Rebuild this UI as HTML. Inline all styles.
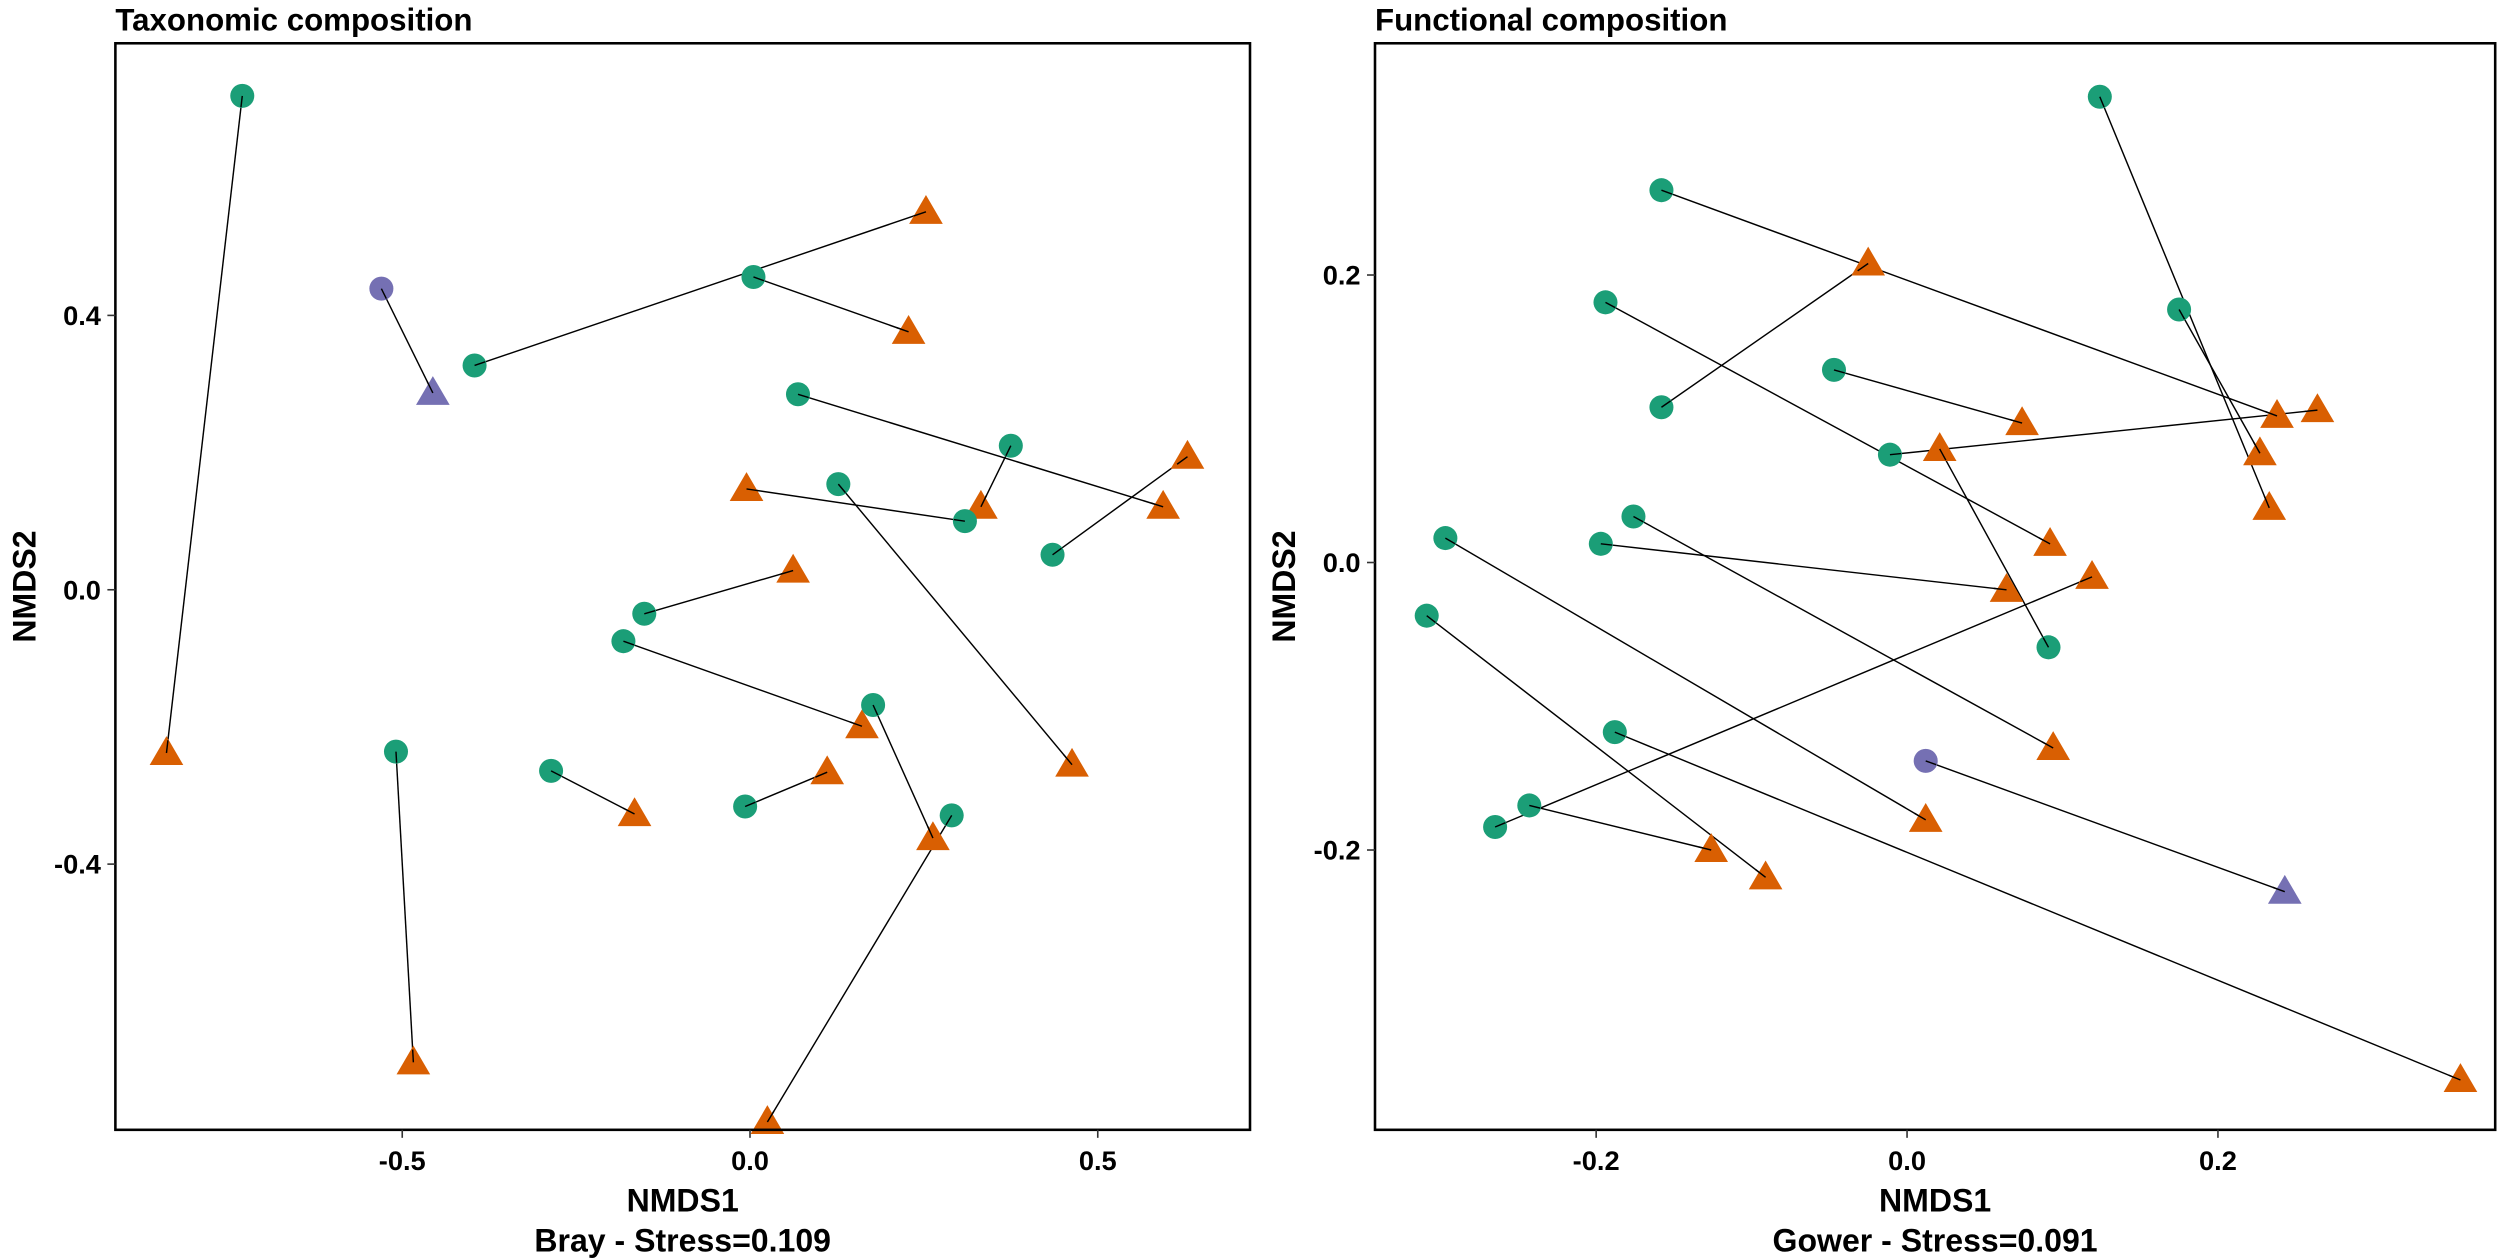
<!DOCTYPE html>
<html><head><meta charset="utf-8"><style>
html,body{margin:0;padding:0;background:#fff;}
svg{display:block;font-family:"Liberation Sans",Arial,sans-serif;font-weight:bold;}
</style></head><body>
<svg id="chart" width="2500" height="1259" viewBox="0 0 1560 785.6" xmlns="http://www.w3.org/2000/svg"></svg>
<script>
// Taxonomic panel data: [circleX, circleY, triX, triY]
const taxCircleX = [-0.730,-0.530,-0.396,0.005,0.069,0.375,0.127,0.309,0.435,-0.152,-0.182,0.177,-0.286,-0.007,0.290,-0.509];
const taxCircleY = [0.720,0.439,0.327,0.456,0.285,0.210,0.154,0.100,0.051,-0.035,-0.075,-0.168,-0.264,-0.316,-0.329,-0.236];
const taxTriX = [-0.839,-0.456,0.253,0.228,0.594,0.332,0.463,-0.005,0.629,0.062,0.161,0.263,-0.166,0.111,0.025,-0.484];
const taxTriY = [-0.238,0.287,0.551,0.376,0.121,0.121,-0.255,0.147,0.194,0.028,-0.199,-0.362,-0.327,-0.266,-0.776,-0.689];
const taxGroup = ["g","p","g","g","g","g","g","g","g","g","g","g","g","g","g","g"];
const taxXTicks = [-0.5,0.0,0.5];
const taxXTickLabels = ["-0.5","0.0","0.5"];
const taxYTicks = [0.4,0.0,-0.4];
const taxYTickLabels = ["0.4","0.0","-0.4"];

// Functional panel data
const funCircleX = [0.124,0.175,-0.158,-0.158,-0.194,-0.047,-0.011,0.091,-0.197,-0.176,-0.297,-0.309,-0.188,-0.265,-0.243,0.012];
const funCircleY = [0.324,0.176,0.259,0.108,0.181,0.134,0.075,-0.059,0.013,0.032,0.017,-0.037,-0.118,-0.184,-0.169,-0.138];
const funTriX = [0.233,0.227,0.238,-0.025,0.092,0.074,0.264,0.021,0.064,0.094,0.012,-0.091,0.356,0.119,-0.126,0.243];
const funTriY = [0.038,0.076,0.102,0.208,0.013,0.097,0.106,0.079,-0.019,-0.129,-0.179,-0.219,-0.360,-0.010,-0.200,-0.229];
const funGroup = ["g","g","g","g","g","g","g","g","g","g","g","g","g","g","g","p"];
const funXTicks = [-0.2,0.0,0.2];
const funXTickLabels = ["-0.2","0.0","0.2"];
const funYTicks = [0.2,0.0,-0.2];
const funYTickLabels = ["0.2","0.0","-0.2"];

const NS="http://www.w3.org/2000/svg";
const svg=document.getElementById('chart');
function mk(tag,attrs,parent){const e=document.createElementNS(NS,tag);for(const k in attrs)e.setAttribute(k,attrs[k]);(parent||svg).appendChild(e);return e;}
const COL={g:"#1b9e77",p:"#7570b3",t:"#d95f02"};

function panel(opt){
  const g=mk('g',{});
  
  
  const sx=v=>opt.x0+v*opt.kx, sy=v=>opt.y0-v*opt.ky;
  const t=mk('text',{x:opt.L,y:19,'font-size':19.5},g);
  t.textContent=opt.title;
  
  
  // segments
  for(let i=0;i<opt.cx.length;i++){
    const l=mk('line',{x1:sx(opt.cx[i]),y1:sy(opt.cy[i]),x2:sx(opt.tx[i]),y2:sy(opt.ty[i]),stroke:'#000','stroke-width':0.9},g);
    
    
  }
  for(let i=0;i<opt.cx.length;i++){
    const c=mk('circle',{cx:sx(opt.cx[i]),cy:sy(opt.cy[i]),r:7.5,fill:COL[opt.grp[i]]},g);
    
    
    const X=sx(opt.tx[i]),Y=sy(opt.ty[i]);
    const tc=opt.grp[i]==='p'?COL.p:COL.t;
    const tr=mk('polygon',{points:`${X},${Y-10.5} ${X-10.5},${Y+7.5} ${X+10.5},${Y+7.5}`,fill:tc},g);
    
    
  }
  // redraw segments' ends on top lightly
  for(let i=0;i<opt.cx.length;i++){
    const X=sx(opt.tx[i]),Y=sy(opt.ty[i]);
    const dx=sx(opt.cx[i])-X,dy=sy(opt.cy[i])-Y,d=Math.hypot(dx,dy)||1;
    mk('line',{x1:X,y1:Y,x2:X+dx/d*8,y2:Y+dy/d*8,stroke:'#000','stroke-width':0.9},g);
    const CX=sx(opt.cx[i]),CY=sy(opt.cy[i]);
    mk('line',{x1:CX,y1:CY,x2:CX-dx/d*7,y2:CY-dy/d*7,stroke:'#000','stroke-width':0.9},g);
  }
  const box=mk('rect',{x:opt.L,y:27,width:opt.R-opt.L,height:705-27,fill:'none',stroke:'#000','stroke-width':1.6},g);
  
  
  opt.xt.forEach((v,i)=>{
    const X=sx(v);
    mk('line',{x1:X,y1:705,x2:X,y2:710,stroke:'#333','stroke-width':1},g);
    const tl=mk('text',{x:X,y:730,'text-anchor':'middle','font-size':17},g);
    tl.textContent=opt.xl[i];
    
    
  });
  opt.yt.forEach((v,i)=>{
    const Y=sy(v);
    mk('line',{x1:opt.L-5,y1:Y,x2:opt.L,y2:Y,stroke:'#333','stroke-width':1},g);
    const tl=mk('text',{x:opt.L-9,y:Y+6,'text-anchor':'end','font-size':17},g);
    tl.textContent=opt.yl[i];
    
    
  });
  const mid=(opt.L+opt.R)/2;
  const xa=mk('text',{x:mid,y:756,'text-anchor':'middle','font-size':20},g);
  xa.textContent='NMDS1';
  
  
  const st=mk('text',{x:mid,y:781,'text-anchor':'middle','font-size':20},g);
  st.textContent=opt.stress;
  
  
  const ya=mk('text',{x:0,y:0,'text-anchor':'middle','font-size':20,transform:`translate(${opt.L-50},366) rotate(-90)`},g);
  ya.textContent='NMDS2';
  
  
}
panel({name:'taxonomic-panel',title:'Taxonomic composition',L:72,R:780,x0:468,kx:434,y0:368,ky:428,
  cx:taxCircleX,cy:taxCircleY,tx:taxTriX,ty:taxTriY,grp:taxGroup,xt:taxXTicks,xl:taxXTickLabels,yt:taxYTicks,yl:taxYTickLabels,stress:'Bray - Stress=0.109'});
panel({name:'functional-panel',title:'Functional composition',L:858,R:1557,x0:1190,kx:970,y0:351,ky:897,
  cx:funCircleX,cy:funCircleY,tx:funTriX,ty:funTriY,grp:funGroup,xt:funXTicks,xl:funXTickLabels,yt:funYTicks,yl:funYTickLabels,stress:'Gower - Stress=0.091'});
</script>
</body></html>
